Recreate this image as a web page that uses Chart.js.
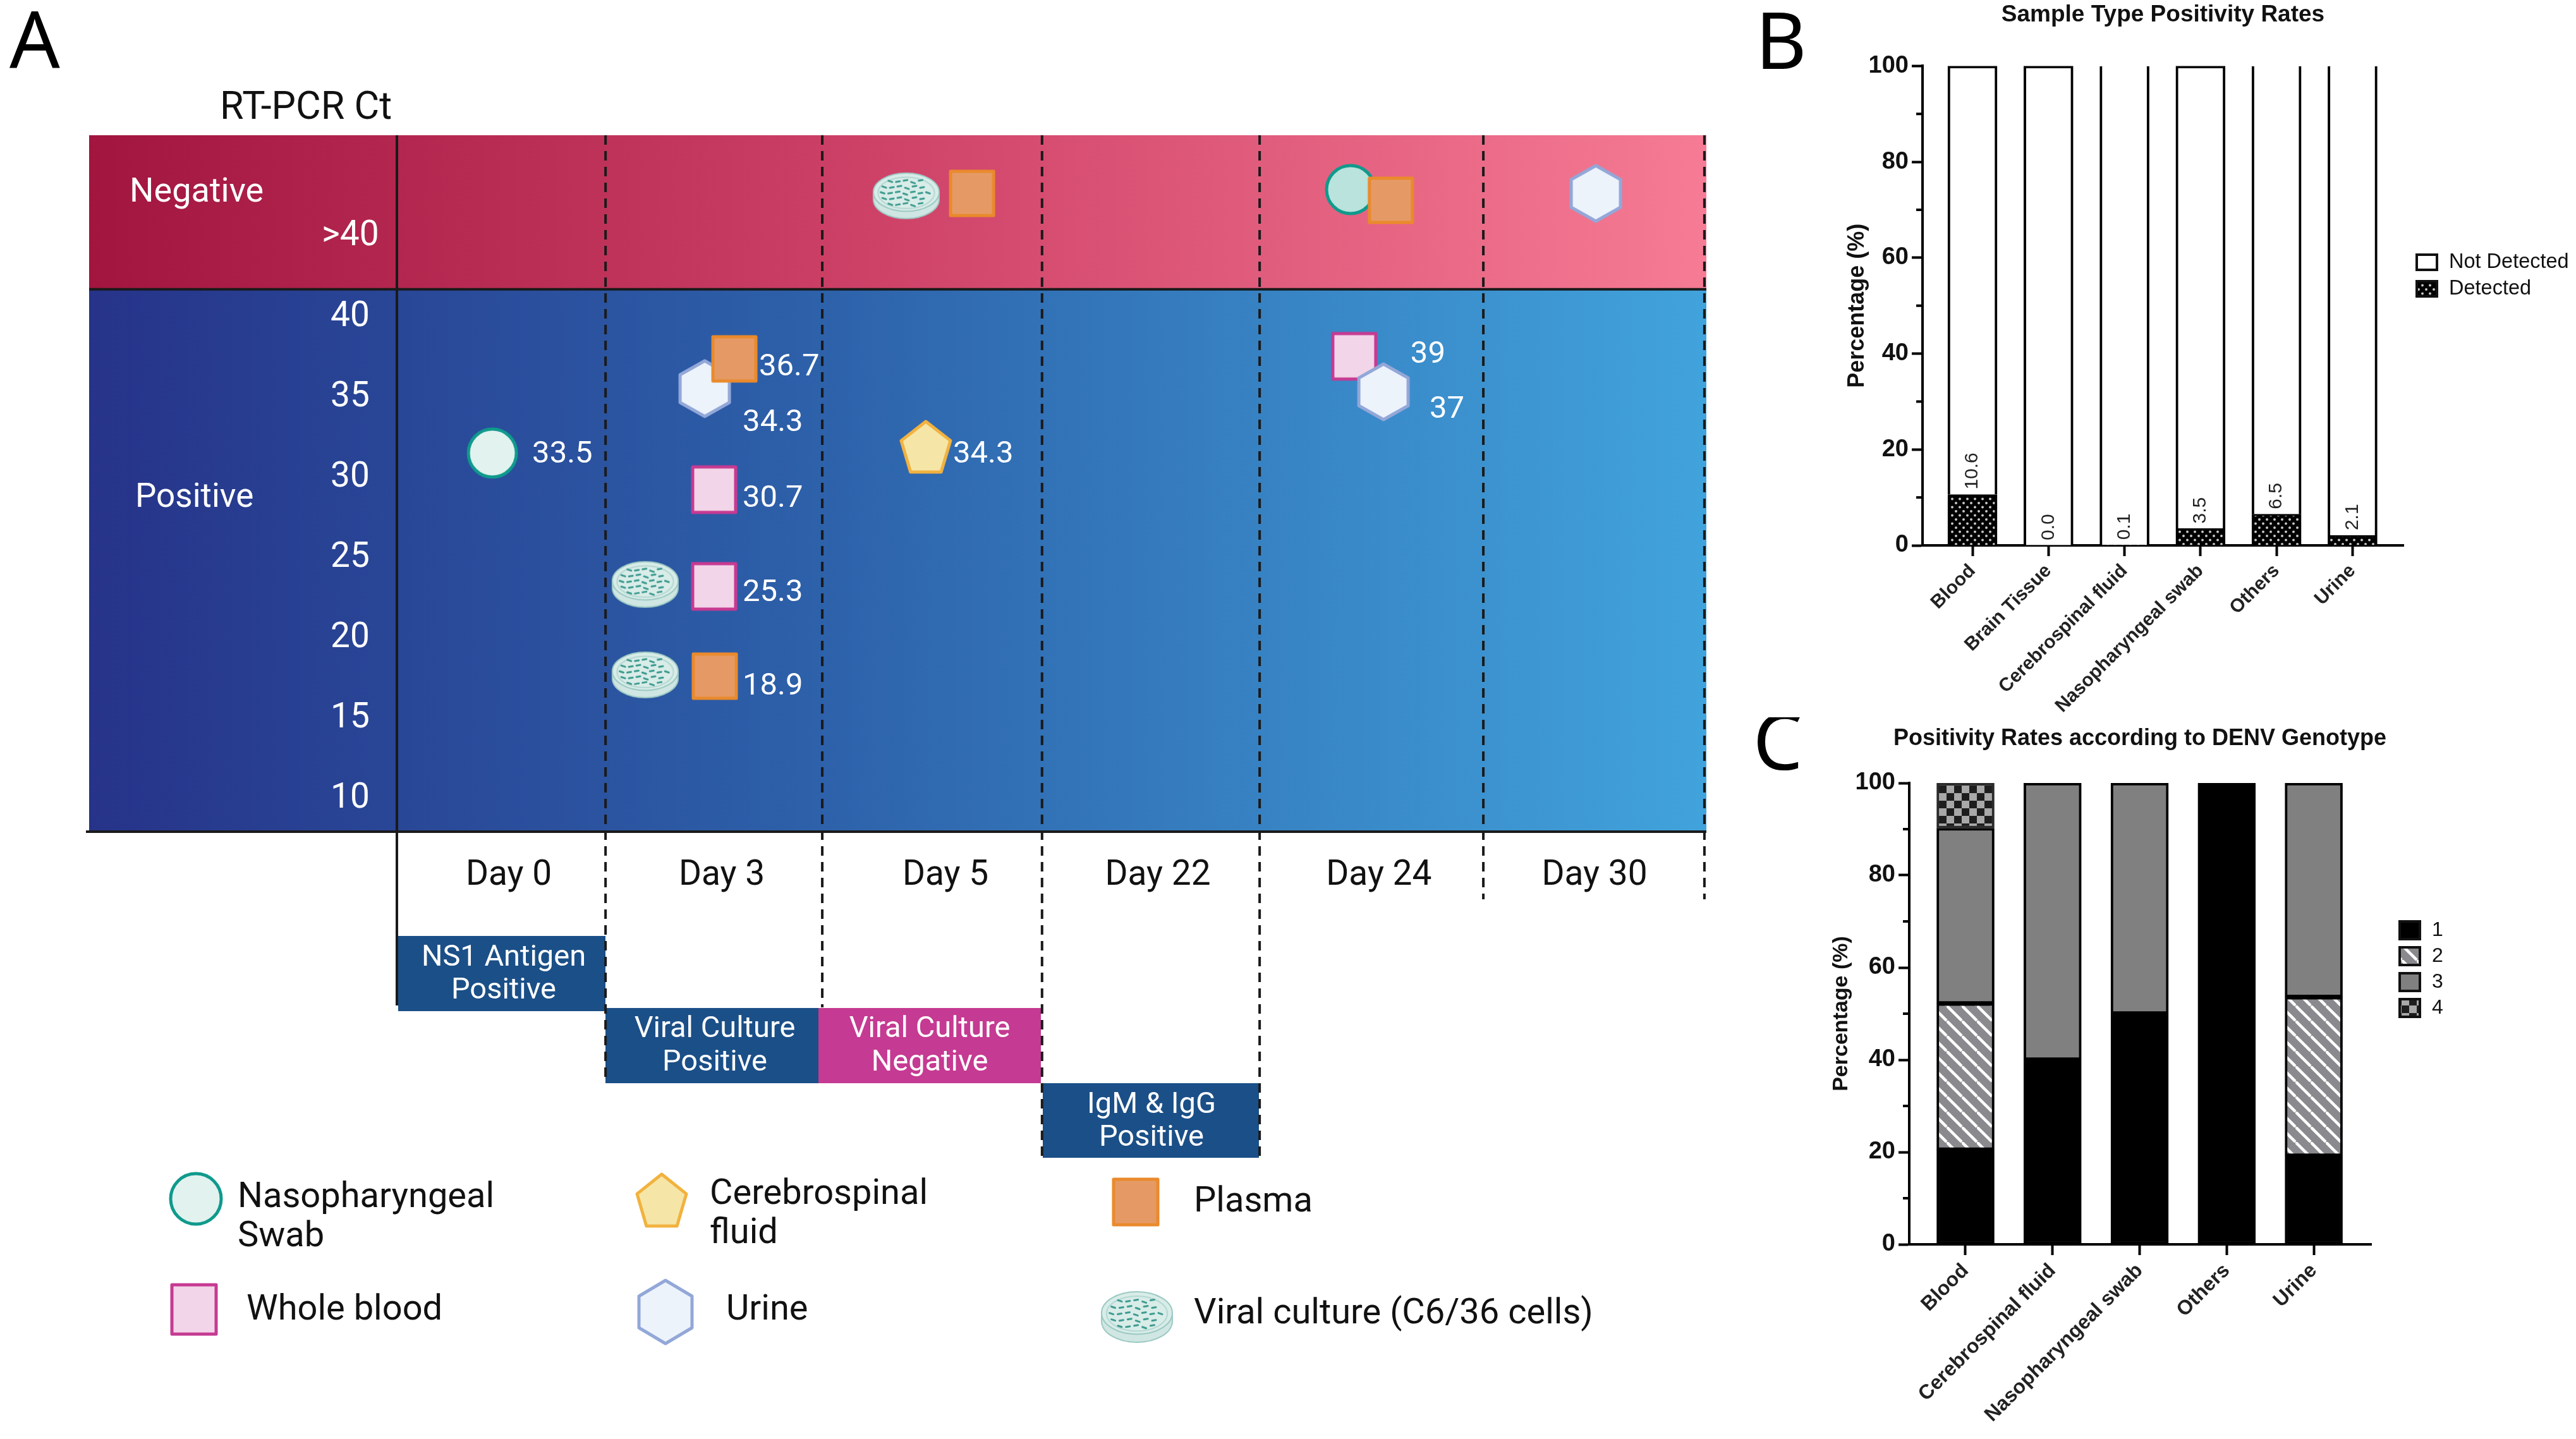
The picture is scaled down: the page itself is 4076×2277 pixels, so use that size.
<!DOCTYPE html>
<html>
<head>
<meta charset="utf-8">
<title>Dengue RT-PCR timeline and positivity rates</title>
<script src="https://cdn.jsdelivr.net/npm/chart.js@4/dist/chart.umd.min.js"></script>
<style>
html,body{margin:0;padding:0;background:#fff;width:4076px;height:2277px;overflow:hidden}
canvas{position:absolute;display:block}
#a{left:0;top:0}
#b{left:2768px;top:0}
#c{left:2696px;top:1135px}
</style>
</head>
<body>
<canvas id="a" width="2720" height="2277"></canvas>
<canvas id="b" width="1308" height="1135"></canvas>
<canvas id="c" width="1380" height="1142"></canvas>
<script>
// ---------- Panel A data: column position (day column units) and plotted Ct height ----------
const dayLabels = ['Day 0','Day 3','Day 5','Day 22','Day 24','Day 30'];
const dayLabelPos = [0.513,1.49,2.516,3.49,4.504,5.493];
const dayBoundaries = [0.957,1.951,2.959,3.957,4.983,5.997];
const ctTicks = [40,35,30,25,20,15,10];
const negativeCut = 41.73;

const plasmaX = [1.548,1.458,2.638,4.559];
const plasmaY = [37.4,17.65,47.7,47.27];
const plasmaText = ['36.7','18.9','',''];
const urineX = [1.412,4.525,5.499];
const urineY = [35.55,35.35,47.7];
const urineText = ['34.3','37',''];
const bloodX = [1.455,1.455,4.391];
const bloodY = [29.26,23.24,37.56];
const bloodText = ['30.7','25.3','39'];
const swabX = [0.438,4.374];
const swabY = [31.54,47.94];
const swabText = ['33.5',''];
const csfX = [2.426];
const csfY = [31.93];
const csfText = ['34.3'];
const cultureX = [1.139,1.139,2.336];
const cultureY = [23.36,17.73,47.55];

// ---------- Panel B data ----------
const sampleLabels = ['Blood','Brain Tissue','Cerebrospinal fluid','Nasopharyngeal swab','Others','Urine'];
const detected = [10.6,0.0,0.1,3.5,6.5,2.1];
const notDetected = [89.4,100,99.9,96.5,93.5,97.9];
const pctTicks = [10,30,50,70,90];

// ---------- Panel C data ----------
const genotypeLabels = ['Blood','Cerebrospinal fluid','Nasopharyngeal swab','Others','Urine'];
const genotype1 = [20.5,40,50,100,19.2];
const genotype2 = [31.7,0,0,0,34.4];
const genotype3 = [38,60,50,0,46.4];
const genotype4 = [9.8,0,0,0,0];

// ---------- Label shifts (pixels, style only) ----------
const plasmaShift = [[39,9],[44,12]];
const urineShift = [[60,50],[73,24]];
const bloodShift = [[45,10],[45,6],[89,-7]];
const swabShift = [[63,-2]];
const csfShift = [[43,8]];

// ---------- Helpers ----------
function mk(w,h){const c=document.createElement('canvas');c.width=w;c.height=h;return c;}
function shapeMarker(kind,w,h,fill,stroke,lw){
  const pad=lw+2,c=mk(w+pad*2,h+pad*2),g=c.getContext('2d');
  const cx=c.width/2,cy=c.height/2;
  g.fillStyle=fill;g.strokeStyle=stroke;g.lineWidth=lw;g.lineJoin='round';
  g.beginPath();
  if(kind==='circle'){g.ellipse(cx,cy,w/2,h/2,0,0,Math.PI*2);}
  else if(kind==='square'){g.rect(cx-w/2,cy-h/2,w,h);}
  else if(kind==='hex'){
    g.moveTo(cx,cy-h/2);g.lineTo(cx+w/2,cy-h/4);g.lineTo(cx+w/2,cy+h/4);
    g.lineTo(cx,cy+h/2);g.lineTo(cx-w/2,cy+h/4);g.lineTo(cx-w/2,cy-h/4);g.closePath();
  } else if(kind==='pent'){
    g.moveTo(cx,cy-h/2);g.lineTo(cx+w/2,cy-h/2+h*0.38);g.lineTo(cx+w*0.31,cy+h/2);
    g.lineTo(cx-w*0.31,cy+h/2);g.lineTo(cx-w/2,cy-h/2+h*0.38);g.closePath();
  }
  g.fill();g.stroke();
  return c;
}
function dishMarker(w,h){
  const c=mk(w+6,h+6),g=c.getContext('2d');
  const cx=c.width/2,rx=w/2,ry=h*0.42,top=3+ry,bot=3+h-ry;
  g.lineWidth=2;g.strokeStyle='#9cc9c3';
  g.fillStyle='#cfe6e2';
  g.beginPath();g.ellipse(cx,bot,rx,ry,0,0,Math.PI*2);g.fill();g.stroke();
  g.fillRect(cx-rx,top,w,bot-top);
  g.beginPath();g.moveTo(cx-rx,top);g.lineTo(cx-rx,bot);g.moveTo(cx+rx,top);g.lineTo(cx+rx,bot);g.stroke();
  g.fillStyle='#d8ece8';
  g.beginPath();g.ellipse(cx,top,rx,ry,0,0,Math.PI*2);g.fill();g.stroke();
  g.strokeStyle='#b5d8d3';
  g.beginPath();g.ellipse(cx,top+1,rx*0.86,ry*0.82,0,0,Math.PI*2);g.stroke();
  g.strokeStyle='#3f9c91';g.lineWidth=3;g.lineCap='round';
  for(let r=-2;r<=2;r++){
    const half=Math.sqrt(Math.max(0,1-(r/2.7)*(r/2.7)))*rx*0.72;
    let k=0;
    for(let x=-half;x<=half;x+=w*0.115){
      const dy=(k%2)*2;
      g.beginPath();
      g.moveTo(cx+x-3,top+r*ry*0.3+dy);g.lineTo(cx+x+3,top+r*ry*0.3+dy+(k%3===0?2:-1));g.stroke();
      k++;
    }
  }
  return c;
}
function dotsPattern(){
  const c=mk(12,13),g=c.getContext('2d');
  g.fillStyle='#000';g.fillRect(0,0,12,13);
  g.fillStyle='#c8c8c8';
  g.beginPath();g.arc(3,3,2,0,Math.PI*2);g.fill();
  g.beginPath();g.arc(9,9.5,2,0,Math.PI*2);g.fill();
  return g.createPattern(c,'repeat');
}
function stripePattern(){
  const P=24,c=mk(P,P),g=c.getContext('2d');
  g.fillStyle='#8a8a8e';g.fillRect(0,0,P,P);
  g.strokeStyle='#fff';g.lineWidth=4.5;
  [[0,0,P,P],[-P,0,0,P],[0,-P,P,0]].forEach(l=>{g.beginPath();g.moveTo(l[0],l[1]);g.lineTo(l[2],l[3]);g.stroke();});
  return g.createPattern(c,'repeat');
}
function checkPattern(){
  const S=12,c=mk(S*2,S*2),g=c.getContext('2d');
  g.fillStyle='#a8a8a8';g.fillRect(0,0,S*2,S*2);
  g.fillStyle='#1e1e1e';g.fillRect(0,0,S,S);g.fillRect(S,S,S,S);
  return g.createPattern(c,'repeat');
}
function txt(g,s,x,y,font,color,align,rot){
  g.save();g.font=font;g.fillStyle=color;g.textAlign=align||'left';g.textBaseline='middle';
  if(rot){g.translate(x,y);g.rotate(rot);g.fillText(s,0,0);}
  else g.fillText(s,x,y+(font.indexOf('Roboto')>=0?4:0));
  g.restore();
}
function stamp(g,img,cx,cy){g.drawImage(img,cx-img.width/2,cy-img.height/2);}

const ROBOTO='Roboto, sans-serif';
const ARIAL='"Liberation Sans", Arial, sans-serif';
const LETTER='"Noto Sans", sans-serif';

// ---------- Markers ----------
const mPlasma=shapeMarker('square',68,70,'#e59a66','#ea8a2c',5);
const mBlood=shapeMarker('square',68,72,'#f2d5e8','#c63a92',5);
const mUrine=shapeMarker('hex',78,88,'#ecf3fb','#93a7d8',5);
const mSwab=shapeMarker('circle',76,76,'#e2f2ee','#0f9a8c',5);
const mSwabNeg=shapeMarker('circle',76,76,'#b9e3dc','#0f9a8c',5);
const mCsf=shapeMarker('pent',78,80,'#f5e6a8','#f2b23f',5);
const mDish=dishMarker(104,72);

// ---------- Panel A ----------
const panelA={
  id:'panelA',
  beforeDraw(chart){
    const g=chart.ctx,a=chart.chartArea,xs=chart.scales.x,ys=chart.scales.y;
    const cut=ys.getPixelForValue(negativeCut);
    const red=g.createLinearGradient(a.left,0,a.right,0);
    red.addColorStop(0,'#a1153f');red.addColorStop(0.5,'#cf4369');red.addColorStop(1,'#f67b94');
    const blue=g.createLinearGradient(a.left,0,a.right,0);
    blue.addColorStop(0,'#263389');blue.addColorStop(0.45,'#2d61aa');blue.addColorStop(1,'#41a3dc');
    g.fillStyle=red;g.fillRect(a.left,a.top,a.right-a.left,cut-a.top);
    g.fillStyle=blue;g.fillRect(a.left,cut,a.right-a.left,a.bottom-cut);
    const boxes=[[630,958,1481,1600,'#1b4f87'],[958,1295,1595,1714,'#1b4f87'],[1295,1647,1595,1714,'#c53a92'],[1650,1992,1714,1832,'#1b4f87']];
    boxes.forEach(b=>{g.fillStyle=b[4];g.fillRect(b[0],b[2],b[1]-b[0],b[3]-b[2]);});
    const ends=[1714,1594,1832,1832,1423,1423];
    g.strokeStyle='#1a1a1a';g.lineWidth=4;g.setLineDash([15,10]);
    dayBoundaries.forEach((d,i)=>{
      const x=xs.getPixelForValue(d);
      g.beginPath();g.moveTo(x,a.top);g.lineTo(x,ends[i]);g.stroke();
    });
    g.setLineDash([]);
    const x0=xs.getPixelForValue(0);
    g.beginPath();g.moveTo(x0,a.top);g.lineTo(x0,1591);g.stroke();
    g.lineWidth=4;
    g.beginPath();g.moveTo(a.left,cut);g.lineTo(a.right,cut);g.stroke();
    g.beginPath();g.moveTo(136,a.bottom);g.lineTo(a.right,a.bottom);g.stroke();
  },
  afterDatasetsDraw(chart){
    const g=chart.ctx;
    const F='49px '+ROBOTO;
    const groups=[[0,plasmaText,plasmaShift],[1,urineText,urineShift],[2,bloodText,bloodShift],[3,swabText,swabShift],[4,csfText,csfShift]];
    groups.forEach(gr=>{
      const pts=chart.getDatasetMeta(gr[0]).data;
      gr[1].forEach((t,i)=>{ if(t) txt(g,t,pts[i].x+gr[2][i][0],pts[i].y+gr[2][i][1]+1,F,'#fff'); });
    });
    txt(g,'A',55,72,'125px '+LETTER,'#000','center');
    txt(g,'RT-PCR Ct',348,169,'61px '+ROBOTO,'#111');
    txt(g,'Negative',205,301,'54px '+ROBOTO,'#fff');
    txt(g,'Positive',214,785,'53px '+ROBOTO,'#fff');
    txt(g,'>40',509,370,'55px '+ROBOTO,'#fff');
    const B='47px '+ROBOTO;
    [['NS1 Antigen',797,1512],['Positive',797,1564],['Viral Culture',1131,1625],['Positive',1131,1678],
     ['Viral Culture',1471,1625],['Negative',1471,1678],['IgM & IgG',1822,1745],['Positive',1822,1797]]
      .forEach(t=>txt(g,t[0],t[1],t[2],B,'#fff','center'));
    const K='56px '+ROBOTO,C='#111';
    stamp(g,shapeMarker('circle',80,80,'#e2f2ee','#0f9a8c',5),310,1897);
    txt(g,'Nasopharyngeal',376,1892,K,C);txt(g,'Swab',376,1954,K,C);
    stamp(g,shapeMarker('pent',78,82,'#f5e6a8','#f2b23f',5),1047,1899);
    txt(g,'Cerebrospinal',1123,1887,K,C);txt(g,'fluid',1123,1949,K,C);
    stamp(g,shapeMarker('square',70,72,'#e59a66','#ea8a2c',5),1797,1902);
    txt(g,'Plasma',1889,1899,K,C);
    stamp(g,shapeMarker('square',70,78,'#f2d5e8','#c63a92',5),307,2072);
    txt(g,'Whole blood',390,2070,K,C);
    stamp(g,shapeMarker('hex',84,100,'#ecf3fb','#93a7d8',5),1053,2076);
    txt(g,'Urine',1149,2070,K,C);
    stamp(g,dishMarker(112,80),1799,2084);
    txt(g,'Viral culture (C6/36 cells)',1889,2076,K,C);
  }
};
function pts(xs,ys){return xs.map((x,i)=>({x:x,y:ys[i]}));}
function noPad(s){s.paddingLeft=0;s.paddingRight=0;s.paddingTop=0;s.paddingBottom=0;}
new Chart(document.getElementById('a'),{
  type:'scatter',
  data:{datasets:[
    {label:'Plasma',data:pts(plasmaX,plasmaY),pointStyle:mPlasma,pointRadius:4},
    {label:'Urine',data:pts(urineX,urineY),pointStyle:mUrine,pointRadius:4},
    {label:'Whole blood',data:pts(bloodX,bloodY),pointStyle:mBlood,pointRadius:4},
    {label:'Nasopharyngeal Swab',data:pts(swabX,swabY),pointStyle:[mSwab,mSwabNeg],pointRadius:4},
    {label:'Cerebrospinal fluid',data:pts(csfX,csfY),pointStyle:mCsf,pointRadius:4},
    {label:'Viral culture (C6/36 cells)',data:pts(cultureX,cultureY),pointStyle:mDish,pointRadius:4}
  ]},
  options:{
    responsive:false,animation:false,devicePixelRatio:1,
    layout:{padding:{left:141,right:20,top:214,bottom:0}},
    plugins:{legend:{display:false},tooltip:{enabled:false}},
    scales:{
      x:{type:'linear',min:-1.4116,max:6.006,
        grid:{display:false,drawTicks:false},border:{display:false},
        afterBuildTicks:s=>{s.ticks=dayLabelPos.map(v=>({value:v}));},
        afterFit:s=>{s.height=961;noPad(s);},
        ticks:{autoSkip:false,maxRotation:0,minRotation:0,padding:37,color:'#111',
          font:{family:'Roboto',size:55},callback:(v,i)=>dayLabels[i]}},
      y:{type:'linear',min:7.97,max:51.32,
        grid:{display:false,drawTicks:false},border:{display:false},
        afterBuildTicks:s=>{s.ticks=ctTicks.map(v=>({value:v}));},
        afterFit:s=>{s.width=0;noPad(s);},
        ticks:{mirror:true,padding:382,color:'#fff',font:{family:'Roboto',size:55},callback:v=>String(v)}}
    }
  },
  plugins:[panelA]
});

// ---------- Panels B and C ----------
function minorTicks(){return {id:'minorTicks',afterDraw(chart){
  const g=chart.ctx,y=chart.scales.y,x=y.right;
  g.strokeStyle='#000';g.lineWidth=4;
  pctTicks.forEach(v=>{const p=y.getPixelForValue(v);g.beginPath();g.moveTo(x-10,p);g.lineTo(x,p);g.stroke();});
}};}
function keyPlugin(entries,bx,by,gap,bw,bh,fs){return {id:'key',afterDraw(chart){
  const g=chart.ctx;
  entries.forEach((e,i)=>{
    const cy=by+i*gap;
    g.fillStyle=e[1];g.fillRect(bx,cy-bh/2,bw,bh);
    g.strokeStyle='#111';g.lineWidth=4;g.strokeRect(bx+2,cy-bh/2+2,bw-4,bh-4);
    txt(g,e[0],bx+bw+17,cy,fs+'px '+ARIAL,'#111');
  });
}};}
function axes(labels,xMin,xMax,xH,yW,titlePad,titleSize,labelSize){
  return {
    x:{type:'linear',stacked:true,min:xMin,max:xMax,offset:false,
      grid:{offset:false,drawOnChartArea:false,drawTicks:true,tickLength:17,tickWidth:4,tickColor:'#000'},
      border:{display:true,color:'#000',width:4},
      afterBuildTicks:s=>{s.ticks=labels.map((_,i)=>({value:i}));},
      afterFit:s=>{s.height=xH;noPad(s);},
      ticks:{autoSkip:false,minRotation:45,maxRotation:45,padding:6,color:'#222',
        font:{family:'Liberation Sans',size:labelSize,weight:'bold'},callback:(v,i)=>labels[i]}},
    y:{type:'linear',stacked:true,min:0,max:100,
      grid:{drawOnChartArea:false,drawTicks:true,tickLength:17,tickWidth:4,tickColor:'#000'},
      border:{display:true,color:'#000',width:4},
      afterFit:s=>{s.width=yW;noPad(s);},
      title:{display:true,text:'Percentage (%)',color:'#111',padding:{top:titlePad,bottom:0},
        font:{family:'Liberation Sans',size:titleSize,weight:'bold'}},
      ticks:{stepSize:20,padding:5,color:'#111',font:{family:'Liberation Sans',size:38,weight:'bold'}}}
  };
}
const dots=dotsPattern(),stripes=stripePattern(),checks=checkPattern();
const faintTop=[2,4,5];

new Chart(document.getElementById('b'),{
  type:'bar',
  data:{datasets:[
    {label:'Detected',data:detected.map((v,i)=>({x:i,y:v})),backgroundColor:dots,borderColor:'#000',borderWidth:{left:4,right:4,top:3,bottom:0},borderSkipped:false,barThickness:78},
    {label:'Not Detected',data:notDetected.map((v,i)=>({x:i,y:v})),backgroundColor:'#fff',borderColor:'#000',
      borderWidth:c=>({left:4,right:4,bottom:0,top:faintTop.includes(c.dataIndex)?0:4}),borderSkipped:false,barThickness:78}
  ]},
  options:{
    responsive:false,animation:false,devicePixelRatio:1,
    layout:{padding:{left:0,right:273,top:0,bottom:0}},
    plugins:{legend:{display:false},tooltip:{enabled:false},
      title:{display:true,fullSize:false,text:'Sample Type Positivity Rates',color:'#111',padding:{top:2,bottom:58},
        font:{family:'Liberation Sans',size:37,weight:'bold'}}},
    scales:axes(sampleLabels,-0.657,5.67,272,274,149,36,30)
  },
  plugins:[minorTicks(),keyPlugin([['Not Detected','#fff'],['Detected',dots]],1054,415,42,36,28,32.5),{
    id:'vals',afterDatasetsDraw(chart){
      const m=chart.getDatasetMeta(0).data,g=chart.ctx;
      detected.forEach((v,i)=>txt(g,v.toFixed(1),m[i].x,m[i].y-8,'30px '+ARIAL,'#222','left',-Math.PI/2));
      txt(g,'B',50,73,'125px '+LETTER,'#000','center');
    }}]
});

new Chart(document.getElementById('c'),{
  type:'bar',
  data:{datasets:[
    {label:'1',data:genotype1.map((v,i)=>({x:i,y:v})),backgroundColor:'#000',borderColor:'#000',borderWidth:4,borderSkipped:false,barThickness:91},
    {label:'2',data:genotype2.map((v,i)=>({x:i,y:v})),backgroundColor:stripes,borderColor:'#000',borderWidth:4,borderSkipped:false,barThickness:91},
    {label:'3',data:genotype3.map((v,i)=>({x:i,y:v})),backgroundColor:'#808080',borderColor:'#000',borderWidth:4,borderSkipped:false,barThickness:91},
    {label:'4',data:genotype4.map((v,i)=>({x:i,y:v})),backgroundColor:checks,borderColor:'#2a2a2a',borderWidth:4,borderSkipped:false,barThickness:91}
  ]},
  options:{
    responsive:false,animation:false,devicePixelRatio:1,
    layout:{padding:{left:0,right:324,top:104,bottom:0}},
    plugins:{legend:{display:false},tooltip:{enabled:false}},
    scales:axes(genotypeLabels,-0.646,4.66,308,325,197,34,32)
  },
  plugins:[minorTicks(),keyPlugin([['1','#000'],['2',stripes],['3','#808080'],['4',checks]],1099,337,41,36,32,32),{
    id:'letterC',afterDraw(chart){
      txt(chart.ctx,'C',117,47,'125px '+LETTER,'#000','center');
      txt(chart.ctx,'Positivity Rates according to DENV Genotype',690,34,'bold 36px '+ARIAL,'#111','center');
    }}]
});
</script>
</body>
</html>
